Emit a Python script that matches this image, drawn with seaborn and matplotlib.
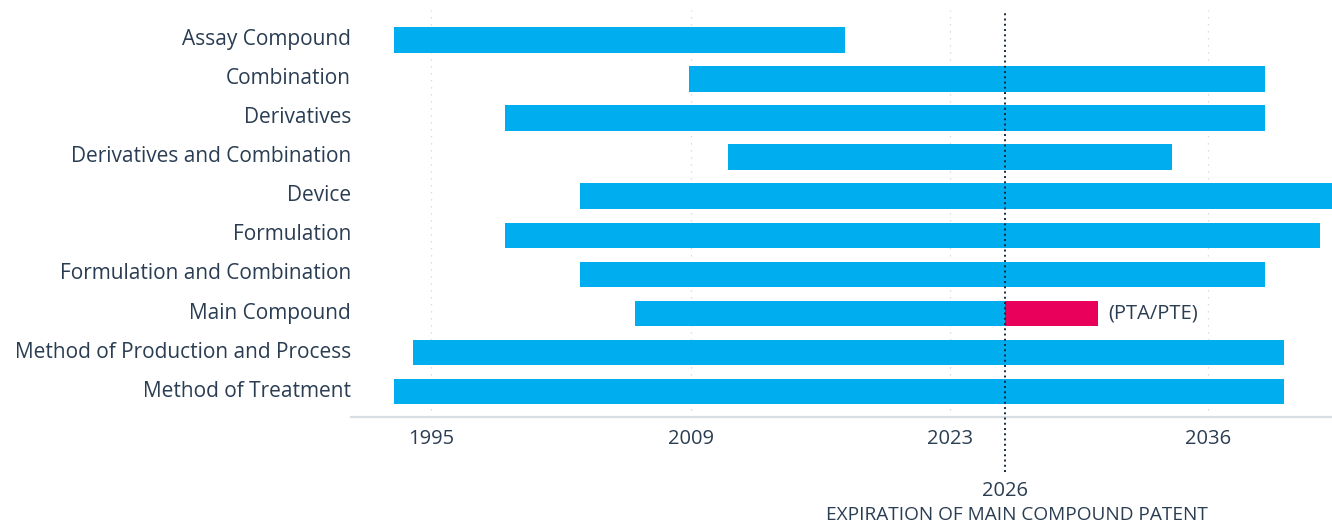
import matplotlib
matplotlib.use("Agg")
import matplotlib.pyplot as plt
import matplotlib.transforms as mtransforms
import pandas as pd
import seaborn as sns

# Patent families and their protection periods (decimal years)
categories = [
    "Assay Compound",
    "Combination",
    "Derivatives",
    "Derivatives and Combination",
    "Device",
    "Formulation",
    "Formulation and Combination",
    "Main Compound",
    "Method of Production and Process",
    "Method of Treatment",
]
start_year = [1993, 2008.9, 1999, 2011, 2003, 1999, 2003, 2006, 1994, 1993]
end_year = [2017.33, 2040, 2040, 2035, 2045, 2043, 2040, 2026, 2041.05, 2041.05]

# Term extension (PTA/PTE) of the main compound patent
extension_category = "Main Compound"
extension_start = 2026
extension_end = 2031
extension_label = "(PTA/PTE)"

# Expiry marker
expiry_year = 2026
expiry_label = "2026"
expiry_caption = "EXPIRATION OF MAIN COMPOUND PATENT"

# Date-axis ticks (positions in decimal years) and their labels
tick_positions = [1995.0, 2009.0, 2023.0, 2036.92]
tick_labels = ["1995", "2009", "2023", "2036"]

BLUE = "#00aeef"
RED = "#e8005a"
TEXT = "#2a3d52"
MARKER = "#17293b"

sns.set_theme(style="white")
plt.rcParams["font.family"] = ["Open Sans", "DejaVu Sans"]

df = pd.DataFrame({"category": categories, "start": start_year, "end": end_year})
df["duration"] = df["end"] - df["start"]

ext = pd.DataFrame({"category": categories})
ext["start"] = [extension_start if c == extension_category else 0 for c in categories]
ext["duration"] = [
    (extension_end - extension_start) if c == extension_category else 0 for c in categories
]

fig = plt.figure(figsize=(13.32, 5.24), dpi=100)
ax = fig.add_axes([351 / 1332, 1 - 416.7 / 524, 1 - 351 / 1332, (416.7 - 10) / 524])

sns.barplot(
    data=df, x="duration", y="category", order=categories, orient="y",
    color=BLUE, width=0.655, left=df["start"].to_numpy(), linewidth=0,
    saturation=1, ax=ax, zorder=2,
)
sns.barplot(
    data=ext, x="duration", y="category", order=categories, orient="y",
    color=RED, width=0.655, left=ext["start"].to_numpy(), linewidth=0,
    saturation=1, ax=ax, zorder=3,
)

ax.set_xlim(1990.66, 2043.63)
ax.set_ylim(9.64, -0.764)

ax.set_xticks(tick_positions)
ax.set_xticklabels(tick_labels)
ax.set_xlabel("")
ax.set_ylabel("")
ax.tick_params(axis="x", length=0, pad=9, labelsize=14.5, labelcolor=TEXT)
ax.tick_params(axis="y", length=0, pad=0, labelsize=15, labelcolor=TEXT)
lift = mtransforms.ScaledTranslation(0, 3 / 100, fig.dpi_scale_trans)
for lbl in ax.get_yticklabels():
    lbl.set_transform(lbl.get_transform() + lift)

# Dotted vertical grid behind the bars
ax.grid(axis="x", color="#d4d4d4", linewidth=0.9, linestyle=(0, (1, 4.6)), zorder=0)
ax.set_axisbelow(True)

for side in ["top", "right", "left"]:
    ax.spines[side].set_visible(False)
ax.spines["bottom"].set_color("#d9dee3")
ax.spines["bottom"].set_linewidth(1.6)

# Expiry marker running below the axis
ax.axvline(expiry_year, ymin=-0.135, ymax=1.0, color=MARKER, linewidth=1.4,
           linestyle=(0, (1, 1.7)), clip_on=False, zorder=4)

ax.annotate(extension_label, xy=(extension_end, categories.index(extension_category)),
            xytext=(10, 0), textcoords="offset pixels", ha="left", va="center",
            fontsize=14.5, color=TEXT)

blend = mtransforms.blended_transform_factory(ax.transData, fig.transFigure)
ax.text(expiry_year, 1 - 491 / 524, expiry_label, transform=blend,
        ha="center", va="center", fontsize=14.5, color=TEXT)
ax.annotate(expiry_caption, xy=(expiry_year, 1 - 515 / 524), xycoords=blend,
            xytext=(11, 0), textcoords="offset pixels", ha="center", va="center",
            fontsize=13.7, color=TEXT)

fig.savefig("out.png", dpi=100)
